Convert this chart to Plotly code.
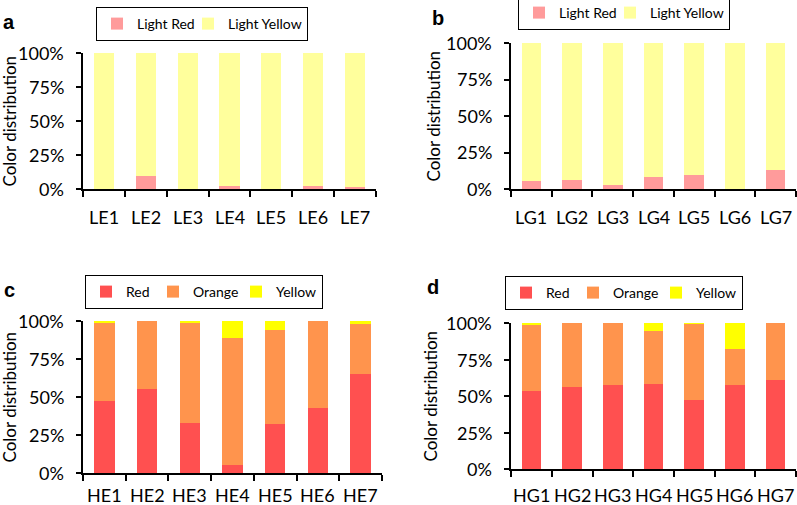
import plotly.graph_objects as go

# ---------------- data ----------------
cats_a = ["LE1", "LE2", "LE3", "LE4", "LE5", "LE6", "LE7"]
light_red_a = [0.0, 9.5, 0.0, 2.5, 0.0, 2.5, 1.5]

cats_b = ["LG1", "LG2", "LG3", "LG4", "LG5", "LG6", "LG7"]
light_red_b = [5.5, 6.5, 3.0, 8.0, 9.5, 0.0, 13.0]

cats_c = ["HE1", "HE2", "HE3", "HE4", "HE5", "HE6", "HE7"]
red_c = [47.5, 55.5, 33.0, 5.0, 32.5, 43.0, 65.0]
orange_c = [51.5, 44.5, 66.0, 83.5, 61.5, 57.0, 33.0]

cats_d = ["HG1", "HG2", "HG3", "HG4", "HG5", "HG6", "HG7"]
red_d = [53.5, 56.0, 57.5, 58.5, 47.0, 57.5, 61.0]
orange_d = [45.0, 44.0, 42.5, 36.0, 52.5, 25.0, 39.0]

y_tick_vals = [0, 25, 50, 75, 100]
y_tick_text = ["0%", "25%", "50%", "75%", "100%"]

light_yellow_a = [100 - v for v in light_red_a]
light_yellow_b = [100 - v for v in light_red_b]
yellow_c = [100 - r - o for r, o in zip(red_c, orange_c)]
yellow_d = [100 - r - o for r, o in zip(red_d, orange_d)]

C_LRED = "#FF9B9B"
C_LYEL = "#FFFF9C"
C_RED = "#FF5050"
C_ORG = "#FF944D"
C_YEL = "#FFFF00"

FONT = "Lato"
W, H = 797, 505

fig = go.Figure()

def add(name, x, y, color, xa, ya, leg, lw=None):
    fig.add_trace(go.Bar(name=name, x=x, y=y, marker=dict(color=color, line=dict(width=0)),
                         xaxis=xa, yaxis=ya, legend=leg, legendwidth=lw))

add("Light Red", cats_a, light_red_a, C_LRED, "x", "y", "legend", 46)
add("Light Yellow", cats_a, light_yellow_a, C_LYEL, "x", "y", "legend")
add("Light Red", cats_b, light_red_b, C_LRED, "x2", "y2", "legend2", 46)
add("Light Yellow", cats_b, light_yellow_b, C_LYEL, "x2", "y2", "legend2")
add("Red", cats_c, red_c, C_RED, "x3", "y3", "legend3", 22)
add("Orange", cats_c, orange_c, C_ORG, "x3", "y3", "legend3", 38)
add("Yellow", cats_c, yellow_c, C_YEL, "x3", "y3", "legend3")
add("Red", cats_d, red_d, C_RED, "x4", "y4", "legend4", 22)
add("Orange", cats_d, orange_d, C_ORG, "x4", "y4", "legend4", 38)
add("Yellow", cats_d, yellow_d, C_YEL, "x4", "y4", "legend4")

def px_x(p):
    return p / W

def px_y(p):
    return 1 - p / H

panels = {
    "1": dict(x0=83, x1=376, ytop=53, ybot=189, laby=217, cats=cats_a),
    "2": dict(x0=511, x1=796, ytop=43, ybot=189, laby=217, cats=cats_b),
    "3": dict(x0=83, x1=382, ytop=321, ybot=473, laby=495, cats=cats_c),
    "4": dict(x0=511, x1=796, ytop=323, ybot=469, laby=495, cats=cats_d),
}

tickfont = dict(family=FONT, size=18, color="black")
layout = dict(
    width=W, height=H, margin=dict(l=0, r=0, t=0, b=0, autoexpand=False),
    paper_bgcolor="white", plot_bgcolor="white",
    barmode="stack", bargap=0.52, showlegend=True,
    font=dict(family=FONT, color="black"),
)
for k, p in panels.items():
    sx = "" if k == "1" else k
    layout["xaxis" + sx] = dict(
        domain=[px_x(p["x0"]), px_x(p["x1"])], anchor="y" + sx, automargin=False,
        showline=True, linecolor="black", linewidth=2,
        ticks="outside", tickson="boundaries", ticklen=6, tickwidth=2, tickcolor="black",
        showticklabels=False, showgrid=False, zeroline=False, fixedrange=True,
    )
    layout["yaxis" + sx] = dict(
        domain=[px_y(p["ybot"]), px_y(p["ytop"])], anchor="x" + sx, automargin=False,
        range=[0, 100], tickmode="array", tickvals=y_tick_vals,
        showline=True, linecolor="black", linewidth=2,
        ticks="outside", ticklen=5, tickwidth=2, tickcolor="black",
        showticklabels=False, showgrid=False, zeroline=False, fixedrange=True,
    )

def leg(cx, top):
    return dict(orientation="h", x=px_x(cx), y=px_y(top), xanchor="center", yanchor="top",
                bordercolor="black", borderwidth=1, bgcolor="white",
                font=dict(family=FONT, size=14, color="black"),
                itemwidth=30, tracegroupgap=0, traceorder="normal")

layout["legend"] = leg(202, 7)
layout["legend2"] = leg(624, -4)
layout["legend3"] = leg(204, 275)
layout["legend4"] = leg(624, 276)

fig.update_layout(**layout)

# tick labels placed through the axes' own scales
for k, p in panels.items():
    sx = "" if k == "1" else k
    for c in p["cats"]:
        fig.add_annotation(text=c, x=c, xref="x" + sx, y=px_y(p["laby"]), yref="paper",
                           showarrow=False, xanchor="center", yanchor="middle",
                           font=tickfont)
    for v, t in zip(y_tick_vals, y_tick_text):
        fig.add_annotation(text=t, y=v, yref="y" + sx, x=px_x(p["x0"] - 17), xref="paper",
                           showarrow=False, xanchor="right", yanchor="middle",
                           font=tickfont)

# panel letters and y-axis titles
letters = [("a", 9, 22), ("b", 438, 18), ("c", 9, 290), ("d", 433, 287)]
for t, x, y in letters:
    fig.add_annotation(text="<b>%s</b>" % t, x=px_x(x), y=px_y(y), xref="paper", yref="paper",
                       showarrow=False, xanchor="center", yanchor="middle",
                       font=dict(family="Liberation Sans", size=20, color="black"))

ytitles = [(-4, (53 + 189) / 2), (421, (43 + 189) / 2), (-4, (321 + 473) / 2), (417, (323 + 469) / 2)]
for x, y in ytitles:
    fig.add_annotation(text="Color distribution", x=px_x(x), y=px_y(y), xref="paper", yref="paper",
                       showarrow=False, textangle=-90, xanchor="left", yanchor="middle",
                       font=dict(family=FONT, size=17, color="black"))

fig.write_html("out.html", config={"displayModeBar": False},
               post_script="document.body.style.margin='0px';")
